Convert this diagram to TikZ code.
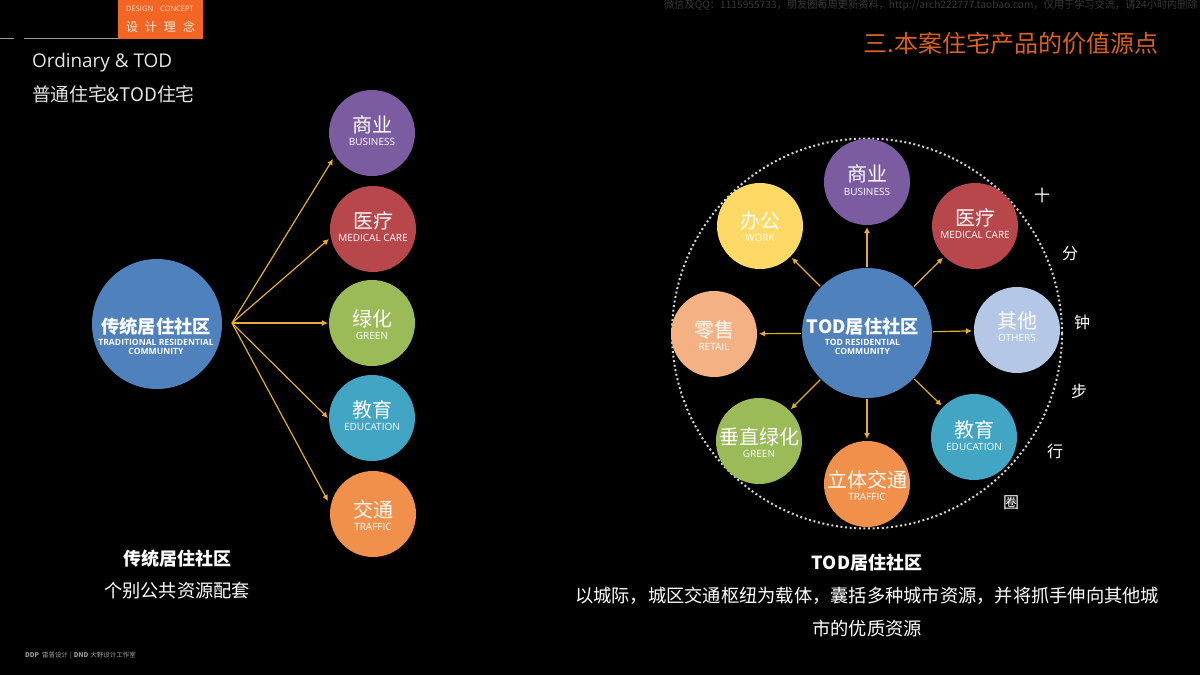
\documentclass[tikz,border=0pt]{standalone}
\usepackage{fontspec}
\setmainfont{Noto Sans CJK SC}
\newfontfamily\enfont{Open Sans}
\usetikzlibrary{arrows.meta}
\definecolor{cpurple}{HTML}{7B5CA0}
\definecolor{cred}{HTML}{B8474B}
\definecolor{cgreen}{HTML}{9BBB59}
\definecolor{cteal}{HTML}{41A5C3}
\definecolor{corange}{HTML}{F0904A}
\definecolor{cblue}{HTML}{4F81BD}
\definecolor{cyellow}{HTML}{FFD966}
\definecolor{cpeach}{HTML}{F4B183}
\definecolor{cpale}{HTML}{B4C7E7}
\definecolor{linkcol}{HTML}{E3AE30}
\definecolor{titleorange}{HTML}{D9601E}
\definecolor{tagorange}{HTML}{F26522}
\newcommand{\fsz}[1]{\fontsize{#1}{#1}\selectfont}
% node, main text, English text, offset of main text, offset of English text (upwards, px)
\newcommand{\satl}[5]{%
  \node[txt,yshift=#4pt] at (#1) {\fsz{20}#2};
  \node[txt,yshift=#5pt] at (#1) {\fsz{10}\enfont #3};
}
\tikzset{
  x=1pt,y=-1pt,
  sat/.style={circle,fill=#1,draw=none,minimum size=86pt,inner sep=0pt,outer sep=0pt},
  hubnode/.style={circle,fill=cblue,draw=none,minimum size=130pt,inner sep=0pt,outer sep=0pt},
  txt/.style={text=white,align=center,inner sep=0pt},
  hubsub/.style={txt,font=\fsz{8.6}\enfont\bfseries},
  plain/.style={text=white,inner sep=0pt,anchor=center},
  link/.style={draw=linkcol,line width=1.2pt,-{Latex[length=6pt,width=6pt]}},
  hublink/.style={link,shorten >=2pt,shorten <=1pt},
}
\begin{document}
\begin{tikzpicture}
\useasboundingbox[fill=black] (0,0) rectangle (1200,675);
% header
\fill[tagorange] (118,0) rectangle (203,39);
\node[text=white!80!tagorange,inner sep=0pt] (tagen) at (160,9) {\fsz{7.5}\enfont DESIGN\hspace{7pt}CONCEPT};
\node[text=white!92!tagorange,inner sep=0pt] (tagcn) at (160.5,27) {\fsz{12}设\hspace{7pt}计\hspace{7pt}理\hspace{7pt}念};
\draw[gray!80,line width=1pt] (0,38) -- (14,38) (24,38) -- (118,38);
\node[text=white!90!black,inner sep=0pt,anchor=west] (ord) at (32,63) {\fsz{18.9}\enfont Ordinary \& TOD};
\node[text=white!90!black,inner sep=0pt,anchor=west] (ordcn) at (32,94) {\fsz{18.7}普通住宅\&TOD住宅};
\node[text=titleorange,inner sep=0pt] (title) at (1011,43) {\fsz{24}三.本案住宅产品的价值源点};
\node[text=white!22!black,inner sep=0pt,anchor=east] (mark) at (1198,5) {\fsz{10.2}微信及QQ：1115955733，朋友圈每周更新资料，http://arch222777.taobao.com，仅用于学习交流，请24小时内删除};
% footer
\node[text=white!62!black,inner sep=0pt,anchor=west] (logo) at (25,656) {\fsz{6.5}\textbf{\textit{DDP}}\hspace{3pt}雷普设计\hspace{2pt}|\hspace{2pt}\textbf{DND}\hspace{2pt}大野设计工作室};
% left diagram
\node[hubnode] (lhub) at (157,324) {};
\node[txt] (lhubt) at (156,327) {\fsz{18.3}\textbf{传统居住社区}};
\node[hubsub] (lhube) at (156,347) {TRADITIONAL RESIDENTIAL\\[1pt]COMMUNITY};
\coordinate (lsrc) at (232,323);
\coordinate (e1) at (333,159);
\coordinate (e2) at (329,239);
\coordinate (e3) at (328,323);
\coordinate (e4) at (328,418);
\coordinate (e5) at (328,501);
\node[sat=cpurple] (l1) at (372,133) {};
\node[sat=cred] (l2) at (373,229) {};
\node[sat=cgreen] (l3) at (372,323) {};
\node[sat=cteal] (l4) at (372,418) {};
\node[sat=corange] (l5) at (373,514) {};
\satl{l1}{商业}{BUSINESS}{8}{-9}
\satl{l2}{医疗}{MEDICAL CARE}{8}{-9}
\satl{l3}{绿化}{GREEN}{4}{-13}
\satl{l4}{教育}{EDUCATION}{8}{-9}
\satl{l5}{交通}{TRAFFIC}{4}{-13}
\foreach \t in {e1,e2,e3,e4,e5} \draw[link] (lsrc) -- (\t);
\node[txt] (lcap1) at (177,559) {\fsz{18}\textbf{传统居住社区}};
\node[txt] (lcap2) at (177,591) {\fsz{18.2}个别公共资源配套};
% right diagram
\node[circle,draw=white!82!black,line width=2pt,dash pattern=on 2pt off 2.6pt,minimum size=390pt,inner sep=0pt] (ring) at (867,333.5) {};
\node[hubnode] (rhub) at (867,333) {};
\node[txt] (rhubt) at (863,327) {\fsz{18.3}\textbf{TOD居住社区}};
\node[hubsub] (rhube) at (862.5,347) {TOD RESIDENTIAL\\[1pt]COMMUNITY};
\node[sat=cpurple] (r1) at (867,182) {};
\node[sat=cred] (r2) at (975,226) {};
\node[sat=cpale] (r3) at (1017,330) {};
\node[sat=cteal] (r4) at (974,437) {};
\node[sat=corange] (r5) at (867,484) {};
\node[sat=cgreen] (r6) at (759,441) {};
\node[sat=cpeach] (r7) at (714,334) {};
\node[sat=cyellow] (r8) at (760,226) {};
\satl{r1}{商业}{BUSINESS}{8}{-10}
\satl{r2}{医疗}{MEDICAL CARE}{8}{-9}
\satl{r3}{其他}{OTHERS}{9}{-8}
\satl{r4}{教育}{EDUCATION}{7}{-10}
\satl{r5}{立体交通}{TRAFFIC}{4}{-13}
\satl{r6}{垂直绿化}{GREEN}{4}{-13}
\satl{r7}{零售}{RETAIL}{4}{-13}
\satl{r8}{办公}{WORK}{5}{-12}
\foreach \t in {r1,r2,r3,r4,r5,r6,r7,r8} \draw[hublink] (rhub) -- (\t);
\node[plain] (c1) at (1042,195) {\fsz{16}十};
\node[plain] (c2) at (1070,254) {\fsz{16}分};
\node[plain] (c3) at (1082,322) {\fsz{16}钟};
\node[plain] (c4) at (1079,391) {\fsz{16}步};
\node[plain] (c5) at (1055,451) {\fsz{16}行};
\node[plain] (c6) at (1011,503) {\fsz{16}圈};
\node[txt] (rcap1) at (867,563) {\fsz{18}\textbf{TOD居住社区}};
\node[txt] (rcap2) at (867,596) {\fsz{18.25}以城际，城区交通枢纽为载体，囊括多种城市资源，并将抓手伸向其他城};
\node[txt] (rcap3) at (867,629) {\fsz{18.25}市的优质资源};
\end{tikzpicture}
\end{document}
